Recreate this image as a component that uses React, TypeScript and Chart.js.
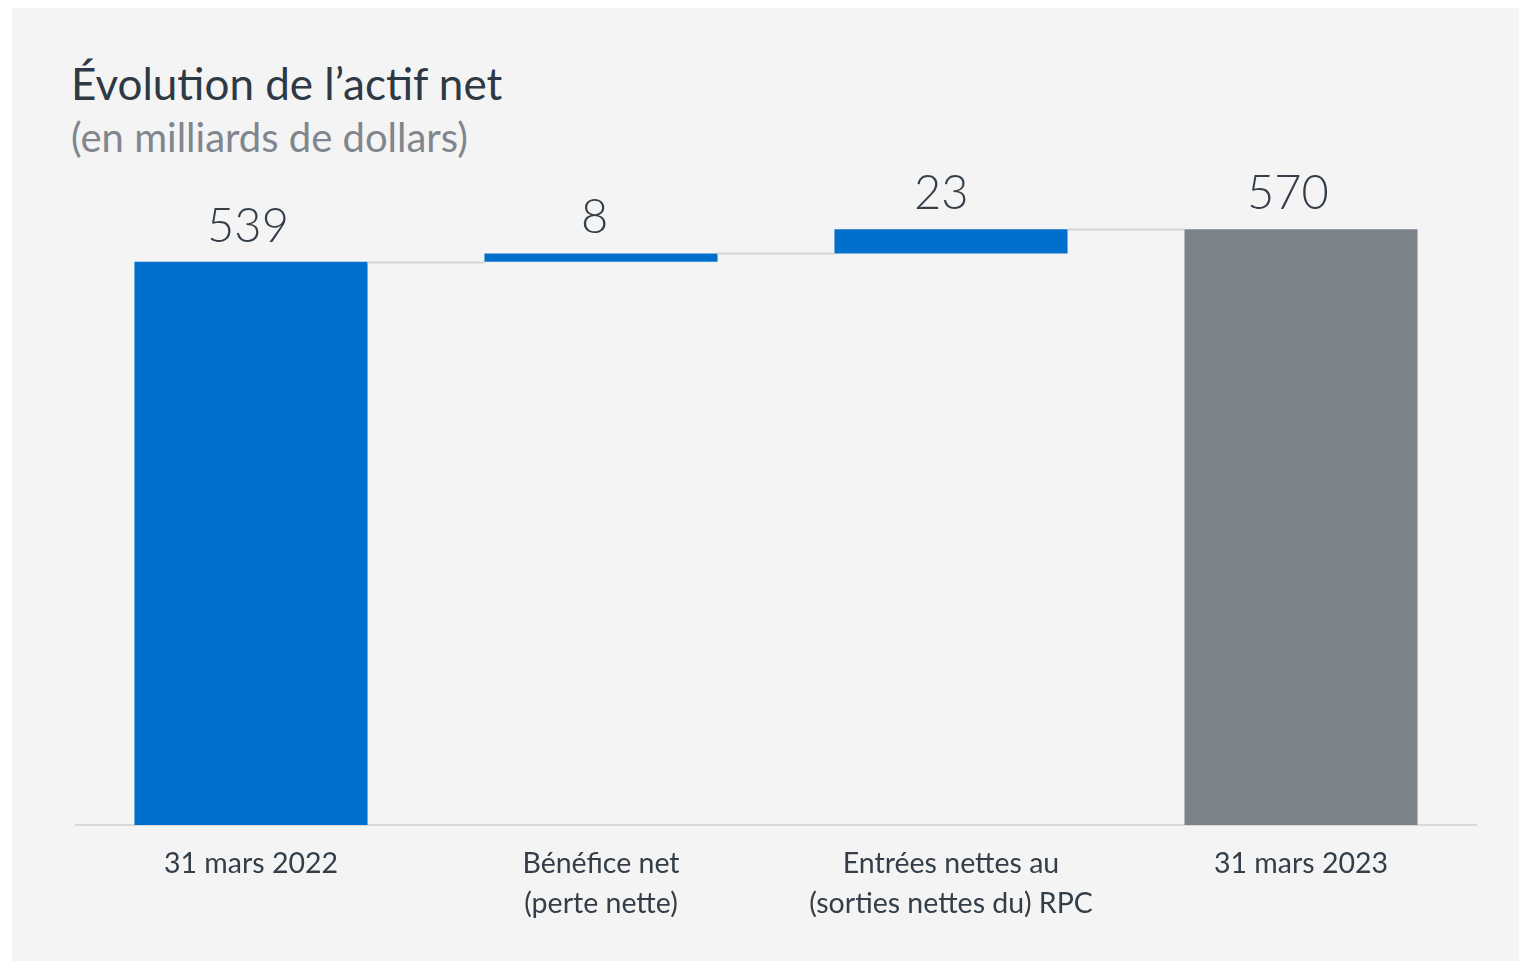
import React, { useEffect, useRef } from "react";
import { Chart, registerables } from "chart.js";

Chart.register(...registerables);

const categories: string[][] = [
  ["31 mars 2022"],
  ["Bénéfice net", "(perte nette)"],
  ["Entrées nettes au", "(sorties nettes du) RPC"],
  ["31 mars 2023"],
];
const values: number[] = [539, 8, 23, 570];
const kinds: string[] = ["total", "delta", "delta", "total"];
const valueLabels: string[] = ["539", "8", "23", "570"];
const titleText = "Évolution de l’actif net";
const subtitleText = "(en milliards de dollars)";

const FONT = "Lato, 'Open Sans', sans-serif";
const BLUE = "#0070cc";
const GRAY = "#7c828a";
const TEXT = "#333e48";

function buildRanges(): [number, number][] {
  let running = 0;
  return values.map((v, i) => {
    if (kinds[i] === "total") {
      running = v;
      return [0, v];
    }
    const start = running;
    running += v;
    return [start, running];
  });
}

export default function App() {
  const ref = useRef<HTMLCanvasElement | null>(null);

  useEffect(() => {
    if (!ref.current) return;
    const ranges = buildRanges();

    const waterfallPlugin = {
      id: "waterfallExtras",
      afterDatasetsDraw(chart: any) {
        const ctx = chart.ctx;
        const meta = chart.getDatasetMeta(0);
        const y = chart.scales.y;
        ctx.save();
        // connectors
        ctx.strokeStyle = "#d3d3d3";
        ctx.lineWidth = 2;
        for (let i = 0; i < meta.data.length - 1; i++) {
          const a = meta.data[i] as any;
          const b = meta.data[i + 1] as any;
          const level = ranges[i][1];
          const yy = Math.round(y.getPixelForValue(level)) + 0.5;
          ctx.beginPath();
          ctx.moveTo(a.x + a.width / 2, yy);
          ctx.lineTo(b.x - b.width / 2, yy);
          ctx.stroke();
        }
        // value labels
        ctx.fillStyle = TEXT;
        ctx.font = `300 47px ${FONT}`;
        ctx.textAlign = "center";
        ctx.textBaseline = "alphabetic";
        meta.data.forEach((el: any, i: number) => {
          const top = y.getPixelForValue(Math.max(ranges[i][0], ranges[i][1]));
          ctx.fillText(valueLabels[i], el.x - 3 - 3.4 * i, top - 20);
        });
        ctx.restore();
      },
    };

    const chart = new Chart(ref.current, {
      type: "bar",
      data: {
        labels: categories,
        datasets: [
          {
            data: ranges as any,
            backgroundColor: kinds.map((k, i) => (i === values.length - 1 ? GRAY : BLUE)),
            borderWidth: 0,
            categoryPercentage: 1,
            barPercentage: 0.666,
          },
        ],
      },
      options: {
        animation: false,
        responsive: false,
        maintainAspectRatio: false,
        layout: { padding: { left: 76, right: 43, top: 198, bottom: 18 } },
        plugins: {
          legend: { display: false },
          tooltip: { enabled: false },
          title: { display: false },
        },
        scales: {
          x: {
            grid: { display: false, drawTicks: false },
            border: { display: true, color: "#d9d9d9", width: 2 },
            ticks: {
              color: TEXT,
              font: { family: FONT, size: 28.5, lineHeight: "40px" } as any,
              padding: 19,
              maxRotation: 0,
              autoSkip: false,
            },
          },
          y: {
            display: false,
            min: 0,
            max: 600,
          },
        },
      },
      plugins: [waterfallPlugin],
    });
    return () => chart.destroy();
  }, []);

  return (
    <div
      style={{
        position: "fixed",
        left: 0,
        top: 0,
        width: 1519,
        height: 961,
        background: "#ffffff",
        overflow: "hidden",
      }}
    >
      <div
        style={{
          position: "absolute",
          left: 12,
          top: 8,
          width: 1507,
          height: 953,
          background: "#f4f4f4",
        }}
      />
      <div
        style={{
          position: "absolute",
          left: 71,
          top: 54,
          fontFamily: FONT,
          fontSize: 44,
          lineHeight: "58px",
          color: "#2d3a45",
          whiteSpace: "nowrap",
        }}
      >
        {titleText}
      </div>
      <div
        style={{
          position: "absolute",
          left: 71,
          top: 111,
          fontFamily: FONT,
          fontSize: 40,
          lineHeight: "52px",
          color: "#80868d",
          whiteSpace: "nowrap",
        }}
      >
        {subtitleText}
      </div>
      <canvas
        ref={ref}
        width={1519}
        height={961}
        style={{ position: "absolute", left: 0, top: 0, width: 1519, height: 961 }}
      />
    </div>
  );
}
